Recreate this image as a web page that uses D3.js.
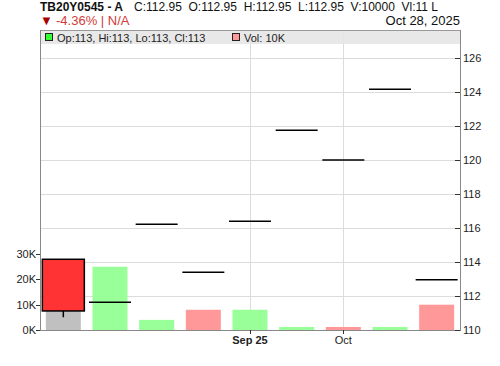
<!DOCTYPE html>
<html>
<head>
<meta charset="utf-8">
<script src="https://cdn.jsdelivr.net/npm/d3@7"></script>
<style>
  body { margin: 0; background: #fff; }
  text { font-family: "Liberation Sans", Arial, sans-serif; }
</style>
</head>
<body>
<div id="chart"></div>
<script>
const width = 500;
const height = 366;

// Data
const bars = [0, 1, 2, 3, 4, 5, 6, 7, 8];
const xLabels = ["", "", "", "", "Sep 25", "", "Oct", "", ""];
const opens  = [114.16, 111.63, 116.22, 113.39, 116.39, 121.75, 120.0, 124.16, 112.95];
const highs  = [114.16, 111.63, 116.22, 113.39, 116.39, 121.75, 120.0, 124.16, 112.95];
const lows   = [110.75, 111.63, 116.22, 113.39, 116.39, 121.75, 120.0, 124.16, 112.95];
const closes = [111.12, 111.63, 116.22, 113.39, 116.39, 121.75, 120.0, 124.16, 112.95];
const volumes = [20000, 25000, 4000, 8000, 8000, 1200, 1200, 1200, 10000];
const priceTicks = [110, 112, 114, 116, 118, 120, 122, 124, 126];
const volTicks = [0, 10000, 20000, 30000];

const plotLeft = 40, plotRight = 460, plotTop = 30, plotBottom = 330;

const svg = d3.select("#chart")
    .append("svg")
    .attr("width", width)
    .attr("height", height);

const x = d3.scaleBand()
    .domain(bars)
    .range([plotLeft, plotRight]);

const y = d3.scaleLinear()
    .domain([110, 126])
    .range([plotBottom, 58]);

const yVol = d3.scaleLinear()
    .domain([0, 10000])
    .range([plotBottom, 304.7]);

const cx = i => x(i) + x.bandwidth() / 2;

// grid lines
svg.append("g")
    .selectAll("line")
    .data(priceTicks.slice(1))
    .enter()
    .append("line")
    .attr("x1", plotLeft + 1).attr("x2", plotRight)
    .attr("y1", d => y(d) + 0.5).attr("y2", d => y(d) + 0.5)
    .attr("stroke", "#dcdcdc");

svg.append("g")
    .selectAll("line")
    .data(bars.filter(i => xLabels[i]))
    .enter()
    .append("line")
    .attr("x1", d => Math.round(cx(d)) + 0.5).attr("x2", d => Math.round(cx(d)) + 0.5)
    .attr("y1", plotTop).attr("y2", plotBottom)
    .attr("stroke", "#dcdcdc");

// volume bars, coloured by change vs previous close
const volColor = i => i === 0 ? "#c0c0c0" : (closes[i] >= closes[i - 1] ? "#99ff99" : "#ff9999");
svg.append("g")
    .selectAll("rect")
    .data(bars)
    .enter()
    .append("rect")
    .attr("x", d => cx(d) - 17.5)
    .attr("width", 35)
    .attr("y", d => yVol(volumes[d]))
    .attr("height", d => plotBottom - yVol(volumes[d]))
    .attr("fill", d => volColor(d));

// candles
const candles = svg.append("g");
bars.forEach(i => {
    const o = opens[i], c = closes[i];
    if (o === c) {
        candles.append("line")
            .attr("x1", cx(i) - 21).attr("x2", cx(i) + 21)
            .attr("y1", y(c)).attr("y2", y(c))
            .attr("stroke", "#000").attr("stroke-width", 1.5);
    } else {
        candles.append("line")
            .attr("x1", cx(i)).attr("x2", cx(i))
            .attr("y1", y(highs[i])).attr("y2", y(lows[i]))
            .attr("stroke", "#000").attr("stroke-width", 1.5);
        candles.append("rect")
            .attr("x", cx(i) - 21)
            .attr("width", 42)
            .attr("y", y(Math.max(o, c)))
            .attr("height", Math.abs(y(o) - y(c)))
            .attr("fill", c < o ? "#ff3333" : "#33ff33")
            .attr("stroke", "#000").attr("stroke-width", 1.5);
    }
});

// legend strip
svg.append("rect")
    .attr("x", plotLeft + 1).attr("y", plotTop)
    .attr("width", plotRight - plotLeft - 1).attr("height", 14)
    .attr("fill", "#e6e6e6").attr("opacity", 0.9);
svg.append("line")
    .attr("x1", plotLeft).attr("x2", plotRight)
    .attr("y1", plotTop + 0.5).attr("y2", plotTop + 0.5)
    .attr("stroke", "#999");

svg.append("rect")
    .attr("x", 45.5).attr("y", 33.5).attr("width", 7).attr("height", 7)
    .attr("fill", "#33ff33").attr("stroke", "#222");
svg.append("text")
    .attr("x", 57).attr("y", 41.5)
    .style("font-size", "11px").attr("fill", "#222")
    .text("Op:113, Hi:113, Lo:113, Cl:113");
svg.append("rect")
    .attr("x", 232.5).attr("y", 33.5).attr("width", 7).attr("height", 7)
    .attr("fill", "#ff9999").attr("stroke", "#222");
svg.append("text")
    .attr("x", 244).attr("y", 41.5)
    .style("font-size", "11px").attr("fill", "#222")
    .text("Vol: 10K");

// axes
svg.append("line")
    .attr("x1", plotLeft + 0.5).attr("x2", plotLeft + 0.5)
    .attr("y1", plotTop).attr("y2", plotBottom + 0.5)
    .attr("stroke", "#888");
svg.append("line")
    .attr("x1", plotRight + 0.5).attr("x2", plotRight + 0.5)
    .attr("y1", plotTop).attr("y2", plotBottom + 0.5)
    .attr("stroke", "#888");
svg.append("line")
    .attr("x1", plotLeft).attr("x2", plotRight + 1)
    .attr("y1", plotBottom + 0.5).attr("y2", plotBottom + 0.5)
    .attr("stroke", "#888");

const rightAxis = svg.append("g");
priceTicks.forEach(t => {
    rightAxis.append("line")
        .attr("x1", plotRight - 5).attr("x2", plotRight)
        .attr("y1", y(t) + 0.5).attr("y2", y(t) + 0.5)
        .attr("stroke", "#333");
    rightAxis.append("text")
        .attr("x", plotRight + 3).attr("y", y(t) + 4)
        .style("font-size", "11px").attr("fill", "#222")
        .text(t);
});

const leftAxis = svg.append("g");
volTicks.forEach(t => {
    leftAxis.append("line")
        .attr("x1", plotLeft - 4).attr("x2", plotLeft)
        .attr("y1", Math.round(yVol(t)) + 0.5).attr("y2", Math.round(yVol(t)) + 0.5)
        .attr("stroke", "#333");
    leftAxis.append("text")
        .attr("x", plotLeft - 4).attr("y", yVol(t) + 4)
        .attr("text-anchor", "end")
        .style("font-size", "11px").attr("fill", "#222")
        .text(d3.format("d")(t / 1000) + "K");
});

const bottomAxis = svg.append("g");
bars.filter(i => xLabels[i]).forEach(i => {
    bottomAxis.append("line")
        .attr("x1", Math.round(cx(i)) + 0.5).attr("x2", Math.round(cx(i)) + 0.5)
        .attr("y1", plotBottom).attr("y2", plotBottom + 4)
        .attr("stroke", "#333");
    bottomAxis.append("text")
        .attr("x", cx(i)).attr("y", plotBottom + 14)
        .attr("text-anchor", "middle")
        .style("font-size", "11px")
        .style("font-weight", xLabels[i] === "Oct" ? "normal" : "bold")
        .attr("fill", "#222")
        .text(xLabels[i]);
});

// header
svg.append("text")
    .attr("x", 40).attr("y", 11)
    .style("font-size", "12px").style("font-weight", "bold")
    .attr("fill", "#111")
    .text("TB20Y0545 - A");
svg.append("text")
    .attr("x", 134).attr("y", 11)
    .style("font-size", "12px").style("white-space", "pre")
    .attr("fill", "#111")
    .text("C:112.95  O:112.95  H:112.95  L:112.95  V:10000  Vl:11 L");
svg.append("text")
    .attr("x", 40).attr("y", 25)
    .style("font-size", "13px").attr("fill", "#aa0000")
    .text("▼");
svg.append("text")
    .attr("x", 56).attr("y", 25)
    .style("font-size", "13px").attr("fill", "#d33a3a")
    .text("-4.36% | N/A");
svg.append("text")
    .attr("x", 460).attr("y", 25)
    .attr("text-anchor", "end")
    .style("font-size", "13px").attr("fill", "#111")
    .text("Oct 28, 2025");
</script>
</body>
</html>
